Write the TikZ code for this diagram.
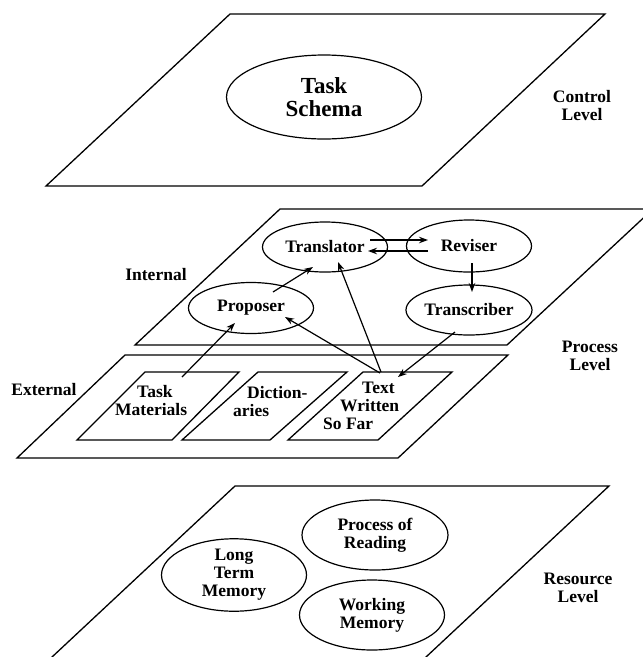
\documentclass[tikz,border=0pt]{standalone}
\usepackage{fontspec}
\setmainfont{Liberation Serif}
\usetikzlibrary{shapes.geometric,arrows.meta,calc}
\begin{document}
\begin{tikzpicture}[x=1pt,y=-1pt,
  plane/.style={draw, line width=1.3pt, line join=miter},
  proc/.style={ellipse, draw, line width=1.2pt, inner sep=0pt, align=center,
               font=\fontsize{17.5}{18}\selectfont\bfseries},
  lbl/.style={align=center, inner sep=0pt, font=\fontsize{17.5}{18}\selectfont\bfseries},
  store/.style={lbl, align=left, anchor=west},
  arr/.style={-{Stealth[length=9pt,width=6.5pt]}, line width=1.2pt}]
\useasboundingbox (0,0) rectangle (643,657);
\fill[white] (0,0) rectangle (643,657);
\clip (0,0) rectangle (643,657);

% control level plane
\draw[plane] (230,14) -- (605,14) -- (422,186) -- (46,186) -- cycle;
\node[proc, minimum width=195pt, minimum height=84pt,
      font=\fontsize{23}{23}\selectfont\bfseries] (schema) at (324,97) {Task\\Schema};
\node[lbl] (ctl) at (582,106) {Control\\Level};

% process level: internal plane
\draw[plane] (280,209) -- (653,209) -- (507,345) -- (135,345) -- cycle;
\node[lbl] (int) at (156,275) {Internal};
\node[proc, minimum width=125pt, minimum height=50pt] (trans) at (325,247) {Translator};
\node[proc, minimum width=125pt, minimum height=52pt] (rev) at (469,246) {Reviser};
\node[proc, minimum width=125pt, minimum height=51pt] (prop) at (251,308) {Proposer};
\node[proc, minimum width=125pt, minimum height=50pt] (transc) at (469,310) {Transcriber};

% process level: external plane and its three stores
\draw[plane] (125,355) -- (508,355) -- (398,458) -- (17,458) -- cycle;
\draw[plane] (145,372) -- (239,372) -- (172,440) -- (77,440) -- cycle;
\draw[plane] (258,372) -- (347,372) -- (270,440) -- (182,440) -- cycle;
\draw[plane] (363,372) -- (452,372) -- (378,440) -- (288,440) -- cycle;
\node[lbl] (ext) at (44,390) {External};
\node[store] (tm) at (115,401) {\hspace{22pt}Task\\Materials};
\node[store] (dict) at (233,402) {\hspace{14pt}Diction-\\aries};
\node[store] (tw) at (323,406) {\hspace{39pt}Text\\\hspace{17pt}Written\\So Far};
\node[lbl] (prc) at (590,356) {Process\\Level};

% points on the stores where the connectors meet them
\coordinate (tmout) at (182,377);
\coordinate (twoutP) at (380,373);
\coordinate (twoutT) at (381,372);
\coordinate (twin) at (398,377);

% connectors of the process level
\draw[arr] ($(prop)+(22,-16)$) -- ($(trans)+(-12,20)$);
\draw[arr] ($(trans)+(45,-7)$) -- ($(rev)+(-41,-6)$);
\draw[arr] ($(rev)+(-41,5)$) -- ($(trans)+(43,4)$);
\draw[arr] ($(rev)+(3,17)$) -- ($(transc)+(3,-18)$);
\draw[arr] (tmout) -- ($(prop)+(-16,15)$);
\draw[arr] (twoutP) -- ($(prop)+(34,9)$);
\draw[arr] (twoutT) -- ($(trans)+(13,15)$);
\draw[arr] ($(transc)+(-14,22)$) -- (twin);

% resource level plane (runs past the lower edge)
\draw[plane] (235,486) -- (609,486) -- (380,700) -- (6,700) -- cycle;
\node[proc, minimum width=146pt, minimum height=70pt] (read) at (375,535) {Process of\\Reading};
\node[proc, minimum width=145pt, minimum height=70pt] (ltm) at (234,575) {Long\\Term\\Memory};
\node[proc, minimum width=145pt, minimum height=70pt] (wm) at (372,615) {Working\\Memory};
\node[lbl] (res) at (578,588) {Resource\\Level};
\end{tikzpicture}
\end{document}
